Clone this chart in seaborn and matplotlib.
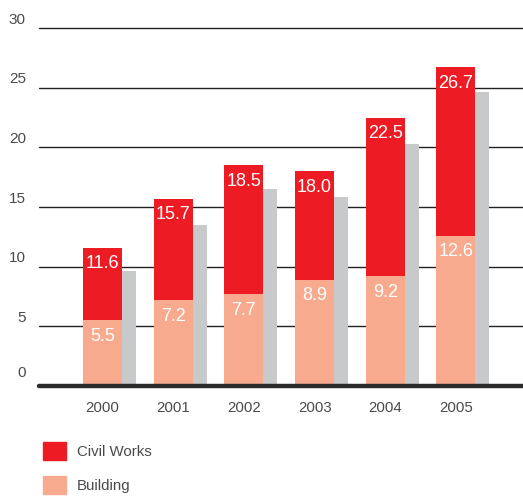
import numpy as np
import pandas as pd
import seaborn as sns
from matplotlib import pyplot as plt
from matplotlib.patches import Patch

# Daten
years = ["2000", "2001", "2002", "2003", "2004", "2005"]
civil_works_total = [11.6, 15.7, 18.5, 18.0, 22.5, 26.7]  # Gesamthoehe (Label oben)
building = [5.5, 7.2, 7.7, 8.9, 9.2, 12.6]
shadow = [9.6, 13.5, 16.5, 15.8, 20.3, 24.6]  # graue Balken rechts daneben
y_ticks = [0, 5, 10, 15, 20, 25, 30]

red = "#ED1C24"
salmon = "#F8AA8E"
grey = "#C8C9CB"
text_col = "#4A4A4A"

df = pd.DataFrame({"year": years, "total": civil_works_total,
                   "building": building, "shadow": shadow})

sns.set_style("white")
plt.rcParams["font.family"] = ["Liberation Sans", "DejaVu Sans"]

fig = plt.figure(figsize=(5.23, 5.0), dpi=100)
ax = fig.add_axes([39 / 523, 114 / 500, 484 / 523, 358 / 500])

bar_w = 0.552
sh_w = 0.198
x = np.arange(len(years))

# graue Schattenbalken
ax.bar(x + bar_w / 2 + sh_w / 2, df["shadow"], width=sh_w, color=grey,
       linewidth=0, zorder=2)

# gestapelte Balken: erst gesamt (rot), dann Building darueber
sns.barplot(data=df, x="year", y="total", color=red, width=bar_w,
            saturation=1, linewidth=0, ax=ax, zorder=3)
sns.barplot(data=df, x="year", y="building", color=salmon, width=bar_w,
            saturation=1, linewidth=0, ax=ax, zorder=4)

# Werte-Labels
for i in range(len(years)):
    ax.annotate(f"{civil_works_total[i]:.1f}", xy=(i, civil_works_total[i]),
                xytext=(0, -11.5), textcoords="offset points",
                ha="center", va="center", color="white", fontsize=13, zorder=5)
    ax.annotate(f"{building[i]:.1f}", xy=(i, building[i]),
                xytext=(0, -11.5), textcoords="offset points",
                ha="center", va="center", color="white", fontsize=13, zorder=5)

# Gitterlinien
for v in y_ticks[1:]:
    ax.axhline(v, color="#222222", lw=1.0, zorder=1, clip_on=False)
ax.axhline(0, color="#2b2b2b", lw=3.2, zorder=6, clip_on=False)

# y-Beschriftungen ueber den Linien
for v in y_ticks:
    ax.annotate(str(v), xy=(0, v), xycoords=("axes fraction", "data"),
                xytext=(-9.5, 6.5 if v == 0 else 3.2), textcoords="offset points",
                ha="right", va="baseline", color=text_col, fontsize=11)

ax.set_xlim(-0.898, 5.948)
ax.set_ylim(0, 30)
ax.set_yticks([])
ax.set_xticks(x)
ax.set_xticklabels(years, color=text_col, fontsize=10.8)
ax.tick_params(axis="x", length=0, pad=10.5)
ax.set_xlabel("")
ax.set_ylabel("")
for s in ax.spines.values():
    s.set_visible(False)

# Legende
handles = [Patch(color=red, label="Civil Works"),
           Patch(color=salmon, label="Building")]
fig.legend(handles=handles, loc="upper left", bbox_to_anchor=(37 / 523, 1 - 436 / 500),
           frameon=False, fontsize=10.8, handlelength=1.5, handleheight=1.5,
           handletextpad=0.75, labelspacing=1.05, labelcolor=text_col, borderaxespad=0)

fig.savefig("out.png", dpi=100)
